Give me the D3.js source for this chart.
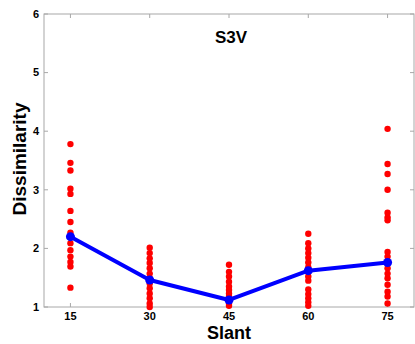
<!DOCTYPE html>
<html>
<head>
<meta charset="utf-8">
<script src="https://cdn.jsdelivr.net/npm/d3@7"></script>
<style>
  body { margin: 0; background: #fff; }
  svg { display: block; font-family: Arial, "Liberation Sans", sans-serif; }
</style>
</head>
<body>
<div id="chart"></div>
<script>
// data
var slants = [15, 30, 45, 60, 75];
var yTicks = [1, 2, 3, 4, 5, 6];
var meanLine = [2.2, 1.46, 1.12, 1.62, 1.76];
var ratings15 = [3.78, 3.46, 3.33, 3.02, 2.93, 2.64, 2.45, 2.27, 2.21, 2.09, 1.97, 1.86, 1.77, 1.69, 1.33];
var ratings30 = [2.01, 1.92, 1.83, 1.75, 1.66, 1.57, 1.49, 1.4, 1.32, 1.23, 1.15, 1.06, 1.0];
var ratings45 = [1.72, 1.6, 1.52, 1.43, 1.35, 1.29, 1.23, 1.18, 1.12, 1.06, 1.02];
var ratings60 = [2.25, 2.09, 2.0, 1.92, 1.84, 1.76, 1.68, 1.6, 1.52, 1.45, 1.3, 1.22, 1.15, 1.08, 1.02];
var ratings75 = [4.04, 3.44, 3.27, 3.0, 2.61, 2.53, 2.48, 1.94, 1.86, 1.77, 1.66, 1.57, 1.49, 1.38, 1.26, 1.18, 1.06];
var ratings = [ratings15, ratings30, ratings45, ratings60, ratings75];

var W = 415, H = 344;
var L = 44, R = 414, T = 14, B = 307;

var svg = d3.select('#chart').append('svg')
  .attr('width', W).attr('height', H);

var x = d3.scaleLinear().domain([10, 80]).range([L, R]);
var y = d3.scaleLinear().domain([1, 6]).range([B, T]);

// axis box
svg.append('rect')
  .attr('x', L).attr('y', T)
  .attr('width', R - L).attr('height', B - T)
  .attr('fill', 'none')
  .attr('stroke', '#a8a8a8')
  .attr('stroke-width', 1);

// inner ticks, all four sides
var tk = 4;
slants.forEach(function(s) {
  svg.append('line')
    .attr('x1', x(s)).attr('x2', x(s)).attr('y1', B).attr('y2', B - tk)
    .attr('stroke', '#a8a8a8');
  svg.append('line')
    .attr('x1', x(s)).attr('x2', x(s)).attr('y1', T).attr('y2', T + tk)
    .attr('stroke', '#a8a8a8');
});
yTicks.forEach(function(v) {
  svg.append('line')
    .attr('x1', L).attr('x2', L + tk).attr('y1', y(v)).attr('y2', y(v))
    .attr('stroke', '#a8a8a8');
  svg.append('line')
    .attr('x1', R - tk).attr('x2', R).attr('y1', y(v)).attr('y2', y(v))
    .attr('stroke', '#a8a8a8');
});

// tick labels
svg.selectAll('.xl').data(slants).enter().append('text')
  .attr('x', function(d) { return x(d); })
  .attr('y', B + 13)
  .attr('text-anchor', 'middle')
  .attr('font-size', 11).attr('font-weight', 700)
  .text(function(d) { return d; });

svg.selectAll('.yl').data(yTicks).enter().append('text')
  .attr('x', L - 5)
  .attr('y', function(d) { return y(d); })
  .attr('dy', '0.35em')
  .attr('text-anchor', 'end')
  .attr('font-size', 11).attr('font-weight', 700)
  .text(function(d) { return d; });

// red individual ratings
ratings.forEach(function(arr, i) {
  svg.append('g').selectAll('circle').data(arr).enter().append('circle')
    .attr('cx', x(slants[i]))
    .attr('cy', function(d) { return y(d); })
    .attr('r', 3.2)
    .attr('fill', '#ff0000');
});

// blue mean line
var line = d3.line()
  .x(function(d, i) { return x(slants[i]); })
  .y(function(d) { return y(d); });

svg.append('path')
  .attr('d', line(meanLine))
  .attr('fill', 'none')
  .attr('stroke', '#0000ff')
  .attr('stroke-width', 4)
  .attr('stroke-linejoin', 'round');

svg.append('g').selectAll('circle').data(meanLine).enter().append('circle')
  .attr('cx', function(d, i) { return x(slants[i]); })
  .attr('cy', function(d) { return y(d); })
  .attr('r', 4.5)
  .attr('fill', '#0000ff');

// titles
svg.append('text')
  .attr('x', 231).attr('y', 43)
  .attr('text-anchor', 'middle')
  .attr('font-size', 17).attr('font-weight', 700)
  .text('S3V');

svg.append('text')
  .attr('x', 229).attr('y', 339)
  .attr('text-anchor', 'middle')
  .attr('font-size', 18).attr('font-weight', 700)
  .text('Slant');

svg.append('text')
  .attr('transform', 'translate(26,159) rotate(-90)')
  .attr('text-anchor', 'middle')
  .attr('font-size', 19).attr('font-weight', 700)
  .text('Dissimilarity');
</script>
</body>
</html>
